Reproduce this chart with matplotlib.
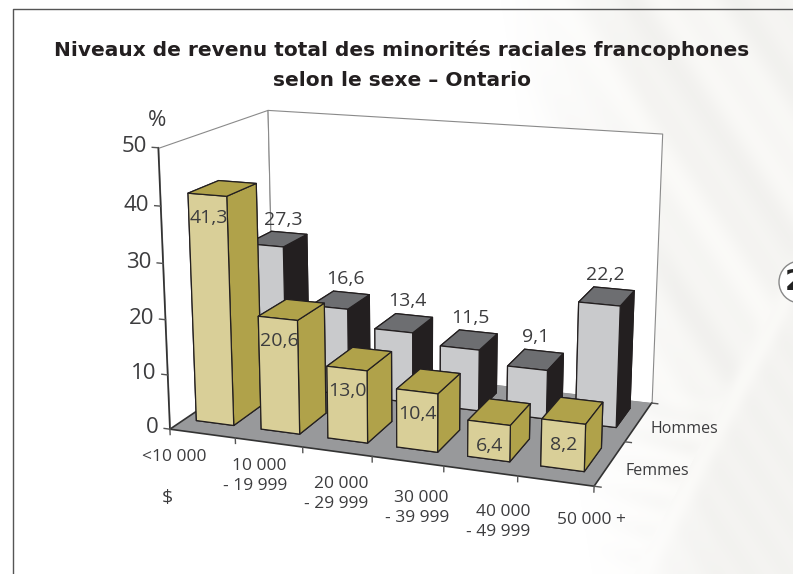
import numpy as np
import matplotlib
matplotlib.use("Agg")
import matplotlib.pyplot as plt
from matplotlib.patches import Circle
from mpl_toolkits.mplot3d.art3d import Poly3DCollection

# ----------------------------------------------------
# Data
# ----------------------------------------------------

categories = ["<10 000", "10 000\n- 19 999", "20 000\n- 29 999",
              "30 000\n- 39 999", "40 000\n- 49 999", "50 000 +"]
hommes = [27.3, 16.6, 13.4, 11.5, 9.1, 22.2]
femmes = [41.3, 20.6, 13.0, 10.4, 6.4, 8.2]
z_ticks = [0, 10, 20, 30, 40, 50]

W, H = 793, 574
TEXT = "#3c3c3e"
plt.rcParams["font.family"] = ["Open Sans", "DejaVu Sans"]


def fx(px):
    return px / W


def fy(py):
    return 1 - py / H


def label(x, y, s, **kw):
    kw.setdefault("color", TEXT)
    kw.setdefault("fontsize", 12.5)
    kw.setdefault("linespacing", 1.3)
    fig.text(fx(x), fy(y), s, **kw)


def fr(v):
    return f"{v:.1f}".replace(".", ",")


fig = plt.figure(figsize=(W / 100, H / 100), dpi=100, facecolor="white")

# ----------------------------------------------------
# Background (soft feather picture behind the chart)
# ----------------------------------------------------

yy, xx = np.mgrid[0:H, 0:W].astype(float)
streak = 1.5 * xx - yy
tone = 246 + 3 * np.sin(streak / 31) + 1.8 * np.sin(streak / 12 + 1)
edge = 633 + (574 - yy) * 0.52
barbs = yy - 0.25 * xx
low = np.clip((yy - 380) / 60, 0, 1) * (xx < edge)
tone = tone * (1 - low) + (248 + 3 * np.sin(barbs / 5)) * low
body = np.clip((xx - edge) / 6, 0, 1)
tone = tone * (1 - body) + (243.5 + 0.8 * np.sin(streak / 9)) * body
ridge = np.exp(-((xx - edge - 9) / 12) ** 2)
tone = tone + (250 - tone) * ridge
fade = np.clip((xx - (500 + 0.16 * yy)) / 130, 0, 1)
tone = 255 * (1 - fade) + tone * fade
img = np.dstack([tone, tone - 0.6 * fade, tone - 3 * fade]) / 255

bg = fig.add_axes([0, 0, 1, 1], zorder=0)
bg.imshow(np.clip(img, 0, 1), extent=(0, W, H, 0), aspect="auto", interpolation="bilinear")
bg.set_xlim(0, W)
bg.set_ylim(H, 0)
bg.axis("off")
bg.plot([13, 13, 793], [574, 9, 9], color="#555555", lw=1)
bg.add_patch(Circle((800, 282), 21, fc="white", ec="#888888", lw=1))
bg.text(785, 282, "2", fontsize=20, fontweight="bold", va="center", ha="left",
        color="#222222", family="DejaVu Sans", clip_on=True)

# ----------------------------------------------------
# 3D axes
# ----------------------------------------------------

S = 302.78
ax = fig.add_axes([260.75 / W, 137.26 / H, S / W, S / H], projection="3d", zorder=1)
ax.patch.set_alpha(0)
ax.set_axis_off()
ax.computed_zorder = False
ax.set_xlim(0, 6)
ax.set_ylim(0, 1)
ax.set_zlim(0, 50)
ax.set_proj_type("persp", focal_length=1)
ax.view_init(elev=15.005, azim=-69.815)
ax._dist = 5.4316
ax.set_box_aspect((1.5261, 0.8562, 1))

z = 1


def poly(verts, fc, ec="none", lw=0.8):
    global z
    p = Poly3DCollection([verts], facecolors=fc, edgecolors=ec, linewidths=lw)
    p.set_clip_on(False)
    p.set_zorder(z)
    z += 1
    ax.add_collection3d(p)


def line(xs, ys, zs, color="#333333", lw=1):
    global z
    ax.plot(xs, ys, zs, color=color, lw=lw, clip_on=False, zorder=z)
    z += 1


poly([(0, 0, 0), (0, 1, 0), (0, 1, 50), (0, 0, 50)], "white", "#8a8a8a")
poly([(0, 1, 0), (6, 1, 0), (6, 1, 50), (0, 1, 50)], "white", "#8a8a8a")
poly([(0, 0, 0), (6, 0, 0), (6, 1, 0), (0, 1, 0)], "#98999b")

line([0, 6], [0, 0], [0, 0], lw=1.2)
line([6, 6], [0, 1], [0, 0], lw=1.2)
line([0, 0], [0, 0], [0, 50], lw=1.2)
line([0, 0], [0, 1], [0, 0], lw=1.2)

for t in z_ticks:
    line([-0.09, 0], [0, 0], [t, t], color="#555555")
    ax.text(-0.17, 0, t, str(t), ha="right", va="center", fontsize=16, color=TEXT,
            zorder=500, clip_on=False)
for i in range(7):
    line([i, i], [0, 0], [0, -1.0], color="#555555")
for d in [0, 0.5, 1]:
    line([6, 6.09], [d, d], [0, 0], color="#555555")


def bar(i, y0, d, h, front, top, side):
    global z
    w = 0.58
    # face order of bar3d: -z, +z, -y, +y, -x, +x
    b = ax.bar3d(i + 0.18, y0, 0, w, d, h, shade=False,
                 color=[side, top, front, side, side, side],
                 edgecolor="#231f20", linewidth=0.9)
    b.set_clip_on(False)
    b.set_zorder(z)
    z += 1


for i, h in enumerate(hommes):
    bar(i, 0.65, 0.25, h, "#c9cacc", "#6d6e71", "#231f20")
for i, h in enumerate(femmes):
    bar(i, 0.13, 0.27, h, "#d9cf98", "#b0a24a", "#b0a24a")

for i, h in enumerate(hommes):
    ax.text(i + 0.30, 0.95, h + 0.2, fr(h), ha="center", va="bottom",
            fontsize=14, color=TEXT, zorder=500, clip_on=False)
for i, h in enumerate(femmes):
    ax.text(i + 0.48, 0.13, h - 4.0, fr(h),
            ha="center", va="center", fontsize=14, color=TEXT, zorder=500, clip_on=False)

# ----------------------------------------------------
# Texts
# ----------------------------------------------------

label(402, 65, "Niveaux de revenu total des minorités raciales francophones\nselon le sexe – Ontario",
      ha="center", va="center", fontsize=14.5, fontweight="bold", color="#231f20",
      family="DejaVu Sans", linespacing=1.75)
label(157, 120, "%", ha="center", va="center", fontsize=16)
label(167, 498, "$", ha="center", va="center", fontsize=14)

x_label_pos = [(174, 457), (287, 476), (368, 494), (449, 508), (530, 522), (591, 520)]
for s, (x, y) in zip(categories, x_label_pos):
    if "\n" in s:
        label(x, y, s, ha="right", va="center")
    else:
        label(x, y, s, ha="center", va="center")

label(684, 429, "Hommes", ha="center", va="center", fontsize=11.5)
label(657, 471, "Femmes", ha="center", va="center", fontsize=11.5)

plt.savefig("out.png", dpi=100)
